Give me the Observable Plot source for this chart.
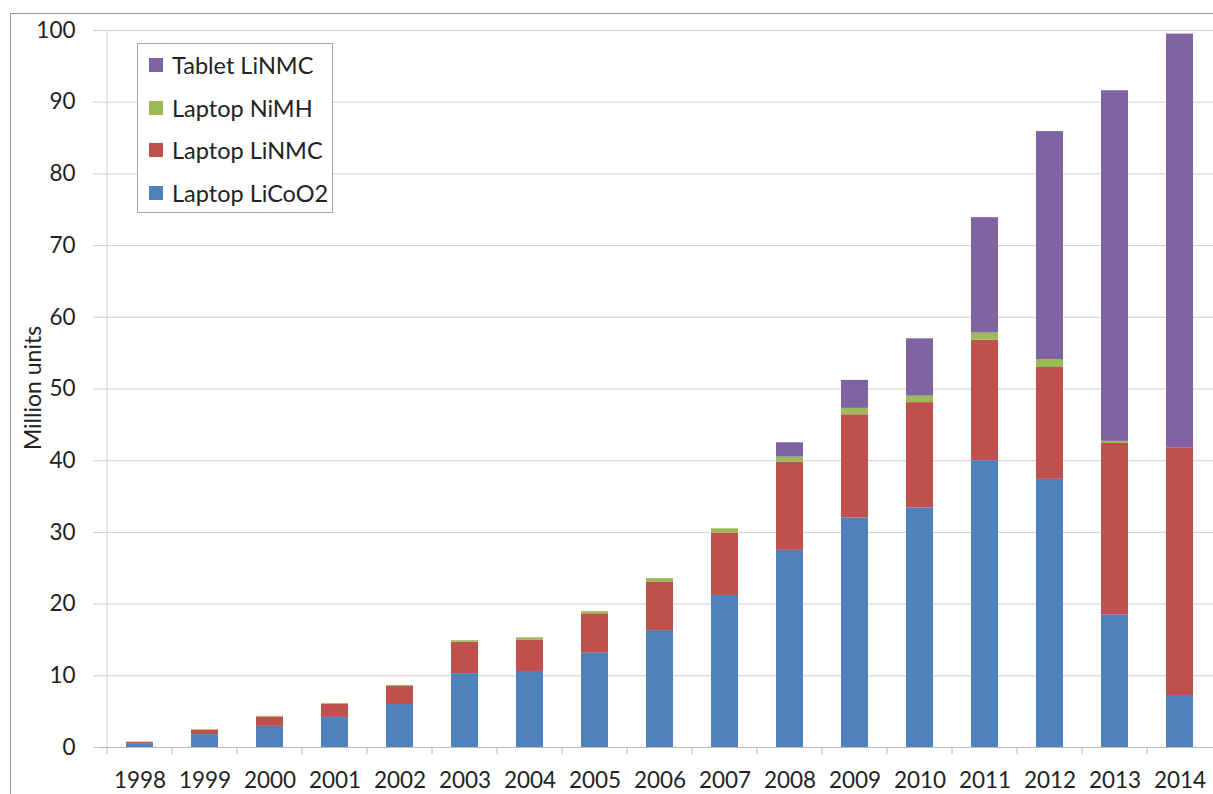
<!DOCTYPE html>
<html><head><meta charset="utf-8">
<script src="https://cdn.jsdelivr.net/npm/d3@7"></script>
<script src="https://cdn.jsdelivr.net/npm/@observablehq/plot@0.6"></script>
<style>
html,body{margin:0;padding:0;background:#fff;overflow:hidden;width:1213px;height:794px}
#wrap{position:relative;width:1213px;height:794px;font-family:Lato,sans-serif;overflow:hidden}
#frame{position:absolute;left:10px;top:13px;width:1300px;height:900px;border:1px solid #9a9a9a}
#chart{position:absolute;left:0;top:0;width:1221px}
#chart svg{max-width:none !important}
#ylabel{position:absolute;left:32px;top:388px;transform:translate(-50%,-50%) rotate(-90deg);font-size:23px;white-space:nowrap;color:#222}
#legend{position:absolute;left:137px;top:43px;width:196px;height:170px;border:1px solid #a6a6a6;background:#fff;box-sizing:border-box}
.item{position:absolute;left:11px;display:flex;align-items:center;font-size:23.5px;line-height:28px;color:#222;white-space:nowrap}
.sw{width:14px;height:14px;margin-right:9px}
</style>
</head><body>
<div id="wrap">
  <div id="frame"></div>
  <div id="chart"></div>
  <div id="ylabel">Million units</div>
  <div id="legend"></div>
</div>
<script>
const years = ["1998","1999","2000","2001","2002","2003","2004","2005","2006","2007","2008","2009","2010","2011","2012","2013","2014"];
const series = ["Laptop LiCoO2","Laptop LiNMC","Laptop NiMH","Tablet LiNMC"];
const colors = ["#4F81BD","#C0504D","#9BBB59","#8064A2"];
const laptopLiCoO2 = [0.45,1.8,2.95,4.2,6.0,10.3,10.6,13.15,16.3,21.2,27.5,32.0,33.4,40.0,37.4,18.5,7.25];
const laptopLiNMC  = [0.25,0.6,1.3,1.85,2.5,4.4,4.4,5.5,6.8,8.7,12.3,14.4,14.7,16.8,15.6,23.9,34.55];
const laptopNiMH   = [0.05,0.1,0.1,0.1,0.15,0.2,0.3,0.3,0.45,0.6,0.7,0.9,0.9,1.0,1.1,0.3,0];
const tabletLiNMC  = [0,0,0,0,0,0,0,0,0,0,2.0,3.9,8.0,16.1,31.8,48.9,57.7];
const yTicks = [0,10,20,30,40,50,60,70,80,90,100];

const seriesValues = [laptopLiCoO2, laptopLiNMC, laptopNiMH, tabletLiNMC];
const data = [];
series.forEach((s, si) => years.forEach((y, i) => data.push({year: y, series: s, value: seriesValues[si][i]})));

const W = 1221, ML = 99, MR = 1;
const step = (W - ML - MR) / years.length;

const chart = Plot.plot({
  width: W, height: 794,
  marginLeft: ML, marginRight: MR, marginTop: 30, marginBottom: 47,
  style: {fontFamily: "Lato, sans-serif", fontSize: "22.5px", color: "#222", background: "transparent", maxWidth: "none"},
  x: {domain: years, paddingInner: 0.59, paddingOuter: 0.295, label: null},
  y: {domain: [0, 100], label: null},
  color: {domain: series, range: colors},
  marks: [
    Plot.gridY(yTicks, {stroke: "#d0d0d0", strokeOpacity: 1}),
    Plot.axisY(yTicks, {tickSize: 6, tickPadding: 18, stroke: "#d0d0d0", fill: "#222", label: null}),
    Plot.barY(data, {x: "year", y: "value", fill: "series", order: series}),
    Plot.ruleY([0], {stroke: "#b8b8b8"}),
    Plot.ruleX([years[0]], {dx: -step / 2, stroke: "#cfcfcf"}),
    Plot.axisX({tickSize: 7, dx: -step / 2, tickFormat: () => "", stroke: "#b8b8b8", label: null}),
    Plot.axisX({tickSize: 0, tickPadding: 25, fill: "#222", label: null})
  ]
});
document.getElementById("chart").appendChild(chart);

const legend = document.getElementById("legend");
const legendOrder = series.slice().reverse();
const rowTops = [7, 49.5, 92, 134.5];
legendOrder.forEach((s, i) => {
  const it = document.createElement("div");
  it.className = "item";
  it.style.top = rowTops[i] + "px";
  const sw = document.createElement("span");
  sw.className = "sw";
  sw.style.background = colors[series.indexOf(s)];
  it.appendChild(sw);
  it.appendChild(document.createTextNode(s));
  legend.appendChild(it);
});
</script>
</body></html>
